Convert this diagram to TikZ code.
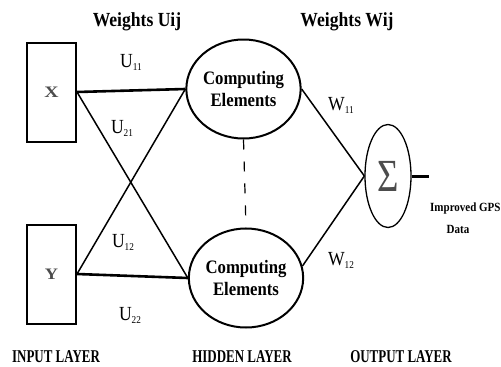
\documentclass[tikz,border=0pt]{standalone}
\usepackage{fontspec}
\setmainfont[FakeStretch=0.88]{Liberation Serif}
\newfontfamily\layerfont[FakeStretch=0.72]{Liberation Serif}
\newfontfamily\sigmafont[FakeStretch=0.8]{Liberation Serif}
\usetikzlibrary{shapes.geometric}
\newcommand\lowsub[1]{\raisebox{-3pt}{\fontsize{10.5}{10.5}\selectfont #1}}
\begin{document}
\begin{tikzpicture}[x=1pt,y=-1pt,
  inbox/.style={draw, line width=2pt, minimum width=49pt, minimum height=99pt, inner sep=0pt,
    font=\fontsize{16}{16}\selectfont\bfseries, text=black!70},
  compnode/.style={draw, ellipse, line width=2pt, minimum width=110pt, minimum height=99pt,
    inner sep=0pt, align=center, font=\fontsize{19}{22}\selectfont\bfseries},
  signode/.style={draw, ellipse, line width=1.3pt, minimum width=46pt, minimum height=103pt,
    inner sep=0pt, font=\sigmafont\fontsize{46}{46}\selectfont, text=black!70},
  wlabel/.style={font=\fontsize{20}{20}\selectfont, inner sep=0pt},
  head/.style={font=\fontsize{20}{20}\selectfont\bfseries, inner sep=0pt},
  layer/.style={font=\layerfont\fontsize{18}{18}\selectfont\bfseries, inner sep=0pt},
  small/.style={font=\fontsize{12.5}{12.5}\selectfont\bfseries, inner sep=0pt},
  hline/.style={line width=2.6pt},
  dline/.style={line width=1.5pt},
]
\useasboundingbox (0,0) rectangle (501,367);
% nodes
\node[inbox] (xbox) at (51.5,92) {\raisebox{-4pt}{\scalebox{1.4}[1]{X}}};
\node[inbox] (ybox) at (51.5,274) {\scalebox{1.3}[1]{Y}};
\node[compnode] (te) at (243.5,89) {Computing\\Elements};
\node[compnode] (be) at (246,278) {Computing\\Elements};
\node[signode] (sig) at (388,176) {Σ};
\coordinate (outend) at (429,176);
% connectors
\draw[hline] (xbox.east) -- (te.west);
\draw[hline] (ybox.east) -- (be.west);
\draw[dline] (xbox.east) -- (be.west);
\draw[dline] (ybox.east) -- (te.west);
\draw[line width=1.2pt, dash pattern=on 10pt off 12pt] (te.south) -- (be.north);
\draw[dline] (te.east) -- (sig.west);
\draw[dline] (be.12) -- (sig.west);
\draw[line width=3pt] (sig.east) -- (outend);
% labels
\node[head] (hu) at (137,22) {Weights Uij};
\node[head] (hw) at (347,22) {Weights Wij};
\node[wlabel] (u11) at (131,62) {U\lowsub{11}};
\node[wlabel] (u21) at (122,128) {U\lowsub{21}};
\node[wlabel] (u12) at (123,242) {U\lowsub{12}};
\node[wlabel] (u22) at (130,315) {U\lowsub{22}};
\node[wlabel] (w11) at (341,105) {W\lowsub{11}};
\node[wlabel] (w12) at (341,260) {W\lowsub{12}};
\node[small, anchor=west] (gps) at (430,208) {Improved GPS};
\node[small] (data) at (458,229) {Data};
\node[layer] (lin) at (56,357) {INPUT LAYER};
\node[layer] (lhid) at (242,357) {HIDDEN LAYER};
\node[layer] (lout) at (401,357) {OUTPUT LAYER};
\end{tikzpicture}
\end{document}
